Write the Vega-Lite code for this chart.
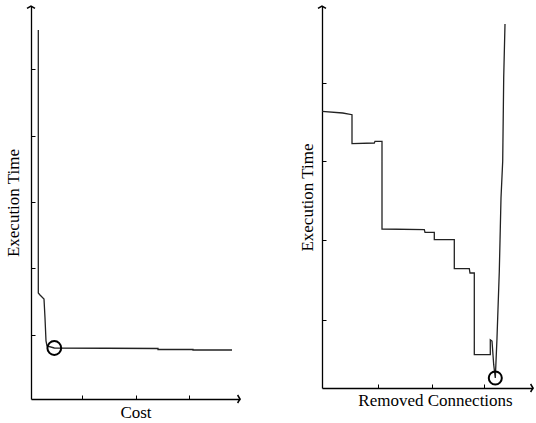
{
  "$schema": "https://vega.github.io/schema/vega-lite/v6.json",
  "background": "white",
  "padding": {"left": 4, "top": 3, "right": 0, "bottom": 0},
  "bounds": "flush",
  "spacing": 82,
  "config": {
    "view": {"stroke": null},
    "axis": {
      "labels": false,
      "grid": false,
      "domainColor": "#000",
      "domainWidth": 1.3,
      "tickColor": "#000",
      "tickSize": -4,
      "tickWidth": 1,
      "titleFont": "Liberation Serif",
      "titleFontSize": 17,
      "titleFontWeight": "normal",
      "titleColor": "#000"
    }
  },
  "datasets": {
    "costCurve": [
      {"i": 0, "x": 7.3, "y": 369},
      {"i": 1, "x": 7.3, "y": 106},
      {"i": 2, "x": 9, "y": 104},
      {"i": 3, "x": 13, "y": 100},
      {"i": 4, "x": 14, "y": 81},
      {"i": 5, "x": 15, "y": 58},
      {"i": 6, "x": 16, "y": 53},
      {"i": 7, "x": 23.3, "y": 51},
      {"i": 8, "x": 127, "y": 50.5},
      {"i": 9, "x": 127, "y": 49.5},
      {"i": 10, "x": 162, "y": 49.5},
      {"i": 11, "x": 162, "y": 49},
      {"i": 12, "x": 201, "y": 49}
    ],
    "costBest": [{"x": 23.3, "y": 51}],
    "leftXEnd": [{"x": 209, "y": 0}],
    "leftYEnd": [{"x": 0, "y": 393}],
    "removedCurve": [
      {"i": 0, "x": 0, "y": 276.7},
      {"i": 1, "x": 20.7, "y": 275},
      {"i": 2, "x": 30, "y": 273.3},
      {"i": 3, "x": 30, "y": 244.3},
      {"i": 4, "x": 52.3, "y": 245},
      {"i": 5, "x": 53, "y": 246.7},
      {"i": 6, "x": 60, "y": 246.7},
      {"i": 7, "x": 60, "y": 159},
      {"i": 8, "x": 102.3, "y": 158.3},
      {"i": 9, "x": 103, "y": 155.7},
      {"i": 10, "x": 112.3, "y": 155.7},
      {"i": 11, "x": 112.3, "y": 148.3},
      {"i": 12, "x": 132.3, "y": 148.3},
      {"i": 13, "x": 132.3, "y": 119.3},
      {"i": 14, "x": 147.3, "y": 119.3},
      {"i": 15, "x": 148, "y": 115},
      {"i": 16, "x": 152.3, "y": 115},
      {"i": 17, "x": 152.3, "y": 33.3},
      {"i": 18, "x": 168.3, "y": 33.3},
      {"i": 19, "x": 168.3, "y": 48.3},
      {"i": 20, "x": 170, "y": 47},
      {"i": 21, "x": 171.7, "y": 23.3},
      {"i": 22, "x": 173.3, "y": 10},
      {"i": 23, "x": 175, "y": 50},
      {"i": 24, "x": 177.3, "y": 116.7},
      {"i": 25, "x": 179, "y": 190},
      {"i": 26, "x": 180.7, "y": 226.7},
      {"i": 27, "x": 181.7, "y": 310},
      {"i": 28, "x": 183, "y": 364}
    ],
    "removedBest": [{"x": 173.3, "y": 10}],
    "rightXEnd": [{"x": 211, "y": 0}],
    "rightYEnd": [{"x": 0, "y": 382}]
  },
  "hconcat": [
    {
      "width": 209,
      "height": 393,
      "layer": [
        {
          "data": {"name": "costCurve"},
          "mark": {"type": "line", "color": "#222", "strokeWidth": 1.3},
          "encoding": {
            "x": {"field": "x", "type": "quantitative", "scale": {"domain": [0, 209], "nice": false, "zero": false},
                  "axis": {"title": "Cost", "values": [51, 105, 158], "titlePadding": 5}},
            "y": {"field": "y", "type": "quantitative", "scale": {"domain": [0, 393], "nice": false, "zero": false},
                  "axis": {"title": "Execution Time", "values": [64, 131, 197, 263, 330], "titlePadding": 8}},
            "order": {"field": "i"}
          }
        },
        {
          "data": {"name": "costBest"},
          "mark": {"type": "point", "shape": "circle", "filled": false, "color": "#000", "strokeWidth": 2, "size": 190, "opacity": 1},
          "encoding": {
            "x": {"field": "x", "type": "quantitative"},
            "y": {"field": "y", "type": "quantitative"}
          }
        },
        {
          "data": {"name": "leftXEnd"},
          "mark": {"type": "point", "shape": "M-0.6,-1L0,0L-0.6,1", "filled": false, "color": "#000", "strokeWidth": 1.5, "size": 64, "opacity": 1},
          "encoding": {
            "x": {"field": "x", "type": "quantitative"},
            "y": {"field": "y", "type": "quantitative"}
          }
        },
        {
          "data": {"name": "leftYEnd"},
          "mark": {"type": "point", "shape": "M-1,0.6L0,0L1,0.6", "filled": false, "color": "#000", "strokeWidth": 1.5, "size": 64, "opacity": 1},
          "encoding": {
            "x": {"field": "x", "type": "quantitative"},
            "y": {"field": "y", "type": "quantitative"}
          }
        }
      ]
    },
    {
      "width": 211,
      "height": 382,
      "layer": [
        {
          "data": {"name": "removedCurve"},
          "mark": {"type": "line", "color": "#222", "strokeWidth": 1.3},
          "encoding": {
            "x": {"field": "x", "type": "quantitative", "scale": {"domain": [0, 211], "nice": false, "zero": false},
                  "axis": {"title": "Removed Connections", "values": [56, 110, 162], "titlePadding": 4, "titleX": 113}},
            "y": {"field": "y", "type": "quantitative", "scale": {"domain": [0, 382], "nice": false, "zero": false},
                  "axis": {"title": "Execution Time", "values": [68, 148, 227, 305], "titlePadding": 5}},
            "order": {"field": "i"}
          }
        },
        {
          "data": {"name": "removedBest"},
          "mark": {"type": "point", "shape": "circle", "filled": false, "color": "#000", "strokeWidth": 2, "size": 170, "opacity": 1},
          "encoding": {
            "x": {"field": "x", "type": "quantitative"},
            "y": {"field": "y", "type": "quantitative"}
          }
        },
        {
          "data": {"name": "rightXEnd"},
          "mark": {"type": "point", "shape": "M-0.6,-1L0,0L-0.6,1", "filled": false, "color": "#000", "strokeWidth": 1.5, "size": 64, "opacity": 1},
          "encoding": {
            "x": {"field": "x", "type": "quantitative"},
            "y": {"field": "y", "type": "quantitative"}
          }
        },
        {
          "data": {"name": "rightYEnd"},
          "mark": {"type": "point", "shape": "M-1,0.6L0,0L1,0.6", "filled": false, "color": "#000", "strokeWidth": 1.5, "size": 64, "opacity": 1},
          "encoding": {
            "x": {"field": "x", "type": "quantitative"},
            "y": {"field": "y", "type": "quantitative"}
          }
        }
      ]
    }
  ]
}
